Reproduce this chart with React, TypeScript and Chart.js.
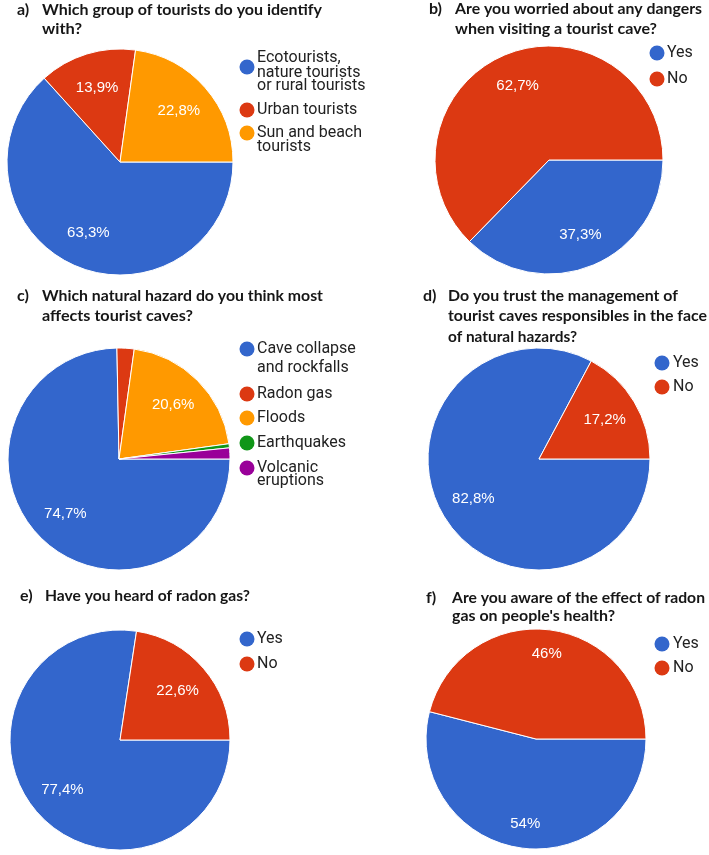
import React, { useEffect, useRef } from 'react';
import { Chart, registerables } from 'chart.js';
Chart.register(...registerables);

const W = 709;
const H = 855;

// ---------- data ----------
const catsA = [["Ecotourists,", "nature tourists", "or rural tourists"], ["Urban tourists"], ["Sun and beach", "tourists"]];
const valsA = [63.3, 13.9, 22.8];

const catsB = [["Yes"], ["No"]];
const valsB = [37.3, 62.7];

const catsC = [["Cave collapse", "and rockfalls"], ["Radon gas"], ["Floods"], ["Earthquakes"], ["Volcanic", "eruptions"]];
const valsC = [74.7, 2.5, 20.6, 0.6, 1.6];

const catsD = [["Yes"], ["No"]];
const valsD = [82.8, 17.2];

const catsE = [["Yes"], ["No"]];
const valsE = [77.4, 22.6];

const catsF = [["Yes"], ["No"]];
const valsF = [54, 46];

const titleA = ["Which group of tourists do you identify", "with?"];
const titleB = ["Are you worried about any dangers", "when visiting a tourist cave?"];
const titleC = ["Which natural hazard do you think most", "affects tourist caves?"];
const titleD = ["Do you trust the management of", "tourist caves responsibles in the face", "of natural hazards?"];
const titleE = ["Have you heard of radon gas?"];
const titleF = ["Are you aware of the effect of radon", "gas on people's health?"];

const COLORS = ['#3366CC', '#DC3912', '#FF9900', '#109618', '#990099'];

// ---------- layout (positions / sizes only) ----------
type Panel = {
  tag: string; cats: string[][]; vals: number[]; title: string[];
  cx: number; cy: number; r: number; labelF: number;
  tagX: number; tx: number; tBase: number[]; tEnd: number[];
  mx: number; lx: number; markerY: number[]; lineY: number[][];
};

const panels: Panel[] = [
  { tag: 'a)', cats: catsA, vals: valsA, title: titleA, cx: 120, cy: 162, r: 113, labelF: 0.69,
    tagX: 17, tx: 42, tBase: [15, 34], tEnd: [322, 82],
    mx: 247, lx: 257, markerY: [67, 110, 133], lineY: [[58, 72.5, 86], [110], [133, 147]] },
  { tag: 'b)', cats: catsB, vals: valsB, title: titleB, cx: 549, cy: 160, r: 114, labelF: 0.71,
    tagX: 429, tx: 455, tBase: [14, 34], tEnd: [702, 657],
    mx: 657, lx: 667, markerY: [53, 79], lineY: [[53], [79]] },
  { tag: 'c)', cats: catsC, vals: valsC, title: titleC, cx: 119, cy: 459, r: 111, labelF: 0.69,
    tagX: 17, tx: 42, tBase: [300.5, 320.5], tEnd: [323, 193],
    mx: 247, lx: 257, markerY: [349, 394, 418, 443, 468], lineY: [[349, 368], [394], [418], [443], [468, 481]] },
  { tag: 'd)', cats: catsD, vals: valsD, title: titleD, cx: 539, cy: 459, r: 111, labelF: 0.69,
    tagX: 423, tx: 448, tBase: [300.5, 320.5, 341.5], tEnd: [678, 707, 577],
    mx: 662, lx: 673, markerY: [363, 387], lineY: [[363], [387]] },
  { tag: 'e)', cats: catsE, vals: valsE, title: titleE, cx: 120, cy: 740, r: 110, labelF: 0.69,
    tagX: 20, tx: 45, tBase: [600.5], tEnd: [250],
    mx: 247, lx: 257, markerY: [639, 664], lineY: [[639], [664]] },
  { tag: 'f)', cats: catsF, vals: valsF, title: titleF, cx: 536, cy: 739, r: 110, labelF: 0.78,
    tagX: 426, tx: 452, tBase: [602.5, 621], tEnd: [705, 615],
    mx: 662, lx: 673, markerY: [644, 668], lineY: [[644], [668]] },
];

const fmt = (v: number) => String(v).replace('.', ',') + '%';

function makePlugin(p: Panel) {
  return {
    id: 'panel' + p.tag,
    afterDatasetsDraw(chart: any) {
      const ctx = chart.ctx;
      const meta = chart.getDatasetMeta(0);
      ctx.save();
      ctx.font = '15px "Liberation Sans", Arial, sans-serif';
      ctx.fillStyle = '#ffffff';
      ctx.textAlign = 'center';
      ctx.textBaseline = 'middle';
      meta.data.forEach((arc: any, i: number) => {
        const v = p.vals[i];
        if (v < 5) return;
        const { x, y, startAngle, endAngle, outerRadius } = arc.getProps(['x', 'y', 'startAngle', 'endAngle', 'outerRadius'], true);
        const mid = (startAngle + endAngle) / 2;
        const rr = outerRadius * p.labelF;
        ctx.fillText(fmt(v), x + Math.cos(mid) * rr, y + Math.sin(mid) * rr);
      });
      ctx.restore();
    },
    afterDraw(chart: any) {
      const ctx = chart.ctx;
      ctx.save();
      // title
      ctx.fillStyle = '#161616';
      ctx.font = 'bold 16px Lato, "Open Sans", sans-serif';
      ctx.textBaseline = 'alphabetic';
      ctx.textAlign = 'left';
      ctx.fillText(p.tag, p.tagX, p.tBase[0]);
      p.title.forEach((line, i) => {
        const w = ctx.measureText(line).width;
        const s = (p.tEnd[i] - p.tx) / w;
        ctx.save();
        ctx.translate(p.tx, p.tBase[i]);
        ctx.scale(s, 1);
        ctx.fillText(line, 0, 0);
        ctx.restore();
      });
      // legend
      ctx.font = '16px Roboto, sans-serif';
      ctx.textBaseline = 'middle';
      p.cats.forEach((lines, i) => {
        ctx.fillStyle = COLORS[i];
        ctx.beginPath();
        ctx.arc(p.mx, p.markerY[i], 7.5, 0, Math.PI * 2);
        ctx.fill();
        ctx.fillStyle = '#222222';
        lines.forEach((t, j) => ctx.fillText(t, p.lx, p.lineY[i][j]));
      });
      ctx.restore();
    },
  };
}

function PieCanvas({ p }: { p: Panel }) {
  const ref = useRef<HTMLCanvasElement | null>(null);
  useEffect(() => {
    if (!ref.current) return;
    const chart = new Chart(ref.current, {
      type: 'pie',
      data: {
        labels: p.cats.map((c) => c.join(' ')),
        datasets: [{
          data: p.vals,
          backgroundColor: COLORS.slice(0, p.vals.length),
          borderColor: '#ffffff',
          borderWidth: 1,
          radius: p.r,
          rotation: 90,
          clip: false,
        } as any],
      },
      options: {
        responsive: false,
        animation: false,
        events: [],
        layout: { padding: { left: p.cx - 1, right: W - p.cx - 1, top: p.cy - 1, bottom: H - p.cy - 1 } },
        plugins: { legend: { display: false }, tooltip: { enabled: false }, title: { display: false } },
      } as any,
      plugins: [makePlugin(p)],
    });
    return () => chart.destroy();
  }, [p]);
  return (
    <canvas ref={ref} width={W} height={H}
      style={{ position: 'absolute', left: 0, top: 0, width: W, height: H }} />
  );
}

export default function App() {
  return (
    <div style={{ position: 'absolute', left: 0, top: 0, width: W, height: H, background: '#ffffff', overflow: 'hidden' }}>
      {panels.map((p) => <PieCanvas key={p.tag} p={p} />)}
    </div>
  );
}
